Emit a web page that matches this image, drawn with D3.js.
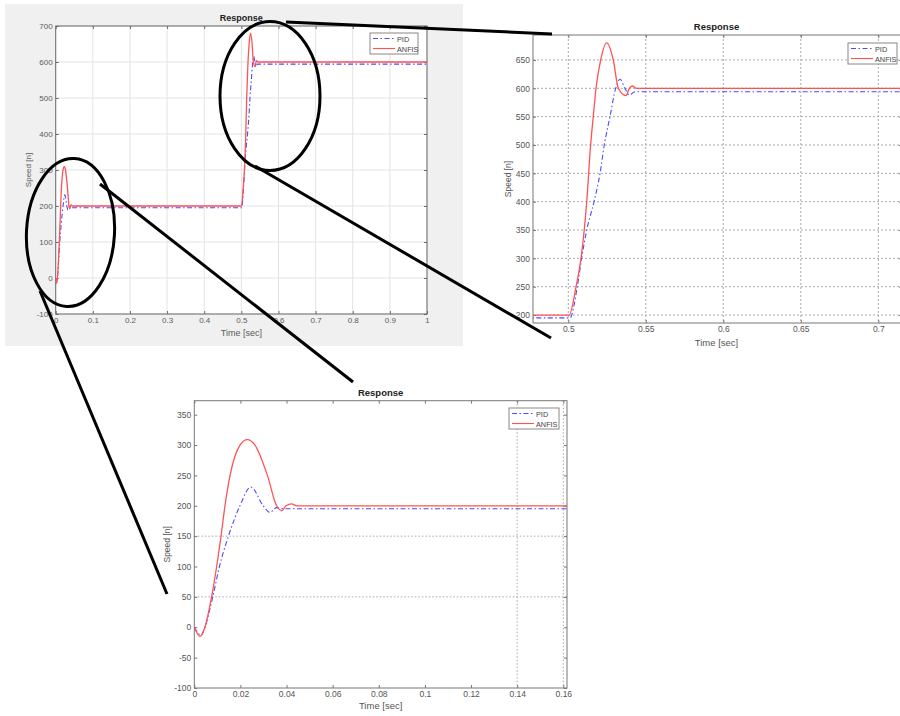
<!DOCTYPE html>
<html>
<head>
<meta charset="utf-8">
<script src="https://cdn.jsdelivr.net/npm/d3@7"></script>
<style>
  body { margin: 0; background: #fff; }
  svg { display: block; font-family: "Liberation Sans", Arial, sans-serif; }
</style>
</head>
<body>
<script>
// speed response, first step (0 -> 200)
const anfisTimeA = [0, 0.0025, 0.0046, 0.0075, 0.0097, 0.0116, 0.0133, 0.0155, 0.0198, 0.023, 0.0263, 0.0317, 0.0357, 0.0379, 0.0398, 0.0422, 0.0444];
const anfisSpeedA = [0, -15, 0, 50, 100, 150, 200, 250, 300, 309, 300, 250, 200, 192, 200, 203, 200];
const pidTimeA = [0, 0.003, 0.0046, 0.008, 0.0109, 0.0148, 0.0198, 0.0245, 0.0299, 0.0328, 0.0357, 0.0389];
const pidSpeedA = [0, -13, 0, 50, 100, 150, 200, 231, 200, 189, 197, 195];

// second step (200 -> 600)
const anfisTimeB = [0.5005, 0.505, 0.5082, 0.5119, 0.5144, 0.5161, 0.5179, 0.5209, 0.5248, 0.529, 0.5323, 0.5372, 0.5394, 0.5413, 0.5441, 1];
const anfisSpeedB = [200, 250, 300, 400, 500, 550, 600, 650, 680, 650, 600, 587, 600, 604, 600, 600];
const pidTimeB = [0.5011, 0.5058, 0.5086, 0.5119, 0.5166, 0.5205, 0.5232, 0.5269, 0.5306, 0.5334, 0.5365, 0.5394, 0.543, 1];
const pidSpeedB = [195, 250, 300, 350, 400, 450, 500, 550, 600, 616, 600, 588, 594, 594];

const anfis = anfisTimeA.concat(anfisTimeB).map((t, i) => [t, anfisSpeedA.concat(anfisSpeedB)[i]]);
const pid = pidTimeA.concat(pidTimeB).map((t, i) => [t, pidSpeedA.concat(pidSpeedB)[i]]);

// tick labels of the three panels
const fullXTicks = [0, 0.1, 0.2, 0.3, 0.4, 0.5, 0.6, 0.7, 0.8, 0.9, 1];
const fullYTicks = [-100, 0, 100, 200, 300, 400, 500, 600, 700];
const stepXTicks = [0.5, 0.55, 0.6, 0.65, 0.7];
const stepYTicks = [200, 250, 300, 350, 400, 450, 500, 550, 600, 650];
const startXTicks = [0, 0.02, 0.04, 0.06, 0.08, 0.1, 0.12, 0.14, 0.16];
const startYTicks = [-100, -50, 0, 50, 100, 150, 200, 250, 300, 350];
const startGridX = [0.14, 0.16];
const startGridY = [50, 150];

const pidColor = "#4a4aff";
const anfisColor = "#ff5252";

const svg = d3.select("body").append("svg")
    .attr("width", 900)
    .attr("height", 716);

svg.append("rect").attr("width", 900).attr("height", 716).attr("fill", "#fff");

// grey figure background of the full view
svg.append("rect")
    .attr("x", 5).attr("y", 4).attr("width", 458).attr("height", 342)
    .attr("fill", "#f0f0f0");

function drawChart(o, id) {
    const x = d3.scaleLinear().domain(o.xDomain).range([o.left, o.right]);
    const y = d3.scaleLinear().domain(o.yDomain).range([o.bottom, o.top]);
    const g = svg.append("g");

    g.append("clipPath").attr("id", id)
        .append("rect")
        .attr("x", o.left).attr("y", o.top)
        .attr("width", o.right - o.left).attr("height", o.bottom - o.top);

    g.append("rect")
        .attr("x", o.left).attr("y", o.top)
        .attr("width", o.right - o.left).attr("height", o.bottom - o.top)
        .attr("fill", "#fff");

    // grid
    g.selectAll(".gx").data(o.gridX).enter().append("line")
        .attr("class", "gx")
        .attr("x1", d => x(d)).attr("x2", d => x(d))
        .attr("y1", o.top).attr("y2", o.bottom)
        .attr("stroke", o.gridColor).attr("stroke-dasharray", o.gridDash);
    g.selectAll(".gy").data(o.gridY).enter().append("line")
        .attr("class", "gy")
        .attr("x1", o.left).attr("x2", o.right)
        .attr("y1", d => y(d)).attr("y2", d => y(d))
        .attr("stroke", o.gridColor).attr("stroke-dasharray", o.gridDash);

    // axes with inward ticks, plain hyphen for negatives
    const fmt = d => String(d);
    const axes = [
        [d3.axisBottom(x).tickValues(o.xTicks).tickSize(-3).tickFormat(fmt), "translate(0," + o.bottom + ")"],
        [d3.axisTop(x).tickValues(o.xTicks).tickSize(-3).tickFormat(""), "translate(0," + o.top + ")"],
        [d3.axisLeft(y).tickValues(o.yTicks).tickSize(-3).tickFormat(fmt), "translate(" + o.left + ",0)"],
        [d3.axisRight(y).tickValues(o.yTicks).tickSize(-3).tickFormat(""), "translate(" + o.right + ",0)"]
    ];
    axes.forEach(a => {
        const ax = g.append("g").attr("transform", a[1]).call(a[0]);
        ax.select(".domain").remove();
        ax.selectAll("line").attr("stroke", o.axisColor);
        ax.selectAll("text")
            .attr("fill", o.labelColor)
            .style("font-size", o.fontSize + "px")
            .style("font-family", "Liberation Sans, Arial, sans-serif");
    });

    g.append("rect")
        .attr("x", o.left).attr("y", o.top)
        .attr("width", o.right - o.left).attr("height", o.bottom - o.top)
        .attr("fill", "none").attr("stroke", o.axisColor);

    const line = d3.line().x(d => x(d[0])).y(d => y(d[1])).curve(d3.curveMonotoneX);
    const plot = g.append("g").attr("clip-path", "url(#" + id + ")");
    plot.append("path").datum(pid)
        .attr("d", line).attr("fill", "none")
        .attr("stroke", pidColor).attr("stroke-width", 1.1)
        .attr("stroke-dasharray", "5,2.5,1.5,2.5");
    plot.append("path").datum(anfis)
        .attr("d", line).attr("fill", "none")
        .attr("stroke", anfisColor).attr("stroke-width", 1.3);

    // title and axis labels
    const midX = (o.left + Math.min(o.right, 900)) / 2;
    g.append("text")
        .attr("x", midX).attr("y", o.top - 5)
        .attr("text-anchor", "middle")
        .style("font-size", (o.fontSize + 1) + "px").style("font-weight", "bold")
        .attr("fill", "#222")
        .text("Response");
    g.append("text")
        .attr("x", midX).attr("y", o.bottom + o.xLabelGap)
        .attr("text-anchor", "middle")
        .style("font-size", (o.fontSize + 1) + "px")
        .attr("fill", o.labelColor)
        .text("Time [sec]");
    g.append("text")
        .attr("transform", "translate(" + o.yLabelX + "," + (o.top + o.bottom) / 2 + ") rotate(-90)")
        .attr("text-anchor", "middle")
        .style("font-size", o.fontSize + "px")
        .attr("fill", o.labelColor)
        .text("Speed [n]");

    // legend
    const lg = g.append("g").attr("transform", "translate(" + o.legend[0] + "," + o.legend[1] + ")");
    lg.append("rect").attr("width", o.legend[2]).attr("height", 21)
        .attr("fill", "#fff").attr("stroke", "#888");
    [["PID", pidColor, "5,2.5,1.5,2.5"], ["ANFIS", anfisColor, null]].forEach((s, i) => {
        lg.append("line")
            .attr("x1", 3).attr("x2", 25)
            .attr("y1", 5.5 + i * 10).attr("y2", 5.5 + i * 10)
            .attr("stroke", s[1]).attr("stroke-width", 1.1)
            .attr("stroke-dasharray", s[2]);
        lg.append("text")
            .attr("x", 27).attr("y", 8.5 + i * 10)
            .style("font-size", "7.3px").attr("fill", "#444")
            .text(s[0]);
    });
}

// full view
drawChart({
    left: 55.7, right: 427, top: 26, bottom: 314,
    xDomain: [0, 1], yDomain: [-100, 700],
    xTicks: fullXTicks, yTicks: fullYTicks,
    gridX: fullXTicks, gridY: fullYTicks, gridColor: "#e3e3e3", gridDash: null,
    axisColor: "#6b6b6b", labelColor: "#5a5a5a", fontSize: 8,
    yLabelX: 31, xLabelGap: 22,
    legend: [370, 33, 48]
}, "clipFull");

// zoom of second step
drawChart({
    left: 533, right: 902, top: 35, bottom: 323,
    xDomain: [0.47723, 0.71529], yDomain: [186, 694],
    xTicks: stepXTicks, yTicks: stepYTicks,
    gridX: stepXTicks, gridY: stepYTicks, gridColor: "#a8a8a8", gridDash: "2,2",
    axisColor: "#777", labelColor: "#555", fontSize: 8.5,
    yLabelX: 511, xLabelGap: 23,
    legend: [848, 43, 49]
}, "clipStep");

// zoom of first step
drawChart({
    left: 194.3, right: 567, top: 400.7, bottom: 688,
    xDomain: [0, 0.1616], yDomain: [-100, 373],
    xTicks: startXTicks, yTicks: startYTicks,
    gridX: startGridX, gridY: startGridY, gridColor: "#a8a8a8", gridDash: "1.5,2",
    axisColor: "#777", labelColor: "#555", fontSize: 8.5,
    yLabelX: 170, xLabelGap: 21,
    legend: [509, 408, 50]
}, "clipStart");

// zoom markers
const ellipses = [
    { cx: 70.5, cy: 232.5, rx: 44, ry: 74, rot: 3 },
    { cx: 270, cy: 96, rx: 50, ry: 74.5, rot: 0 }
];
const pointers = [
    [[286, 22], [552, 34]],
    [[255, 166], [551, 338]],
    [[100, 184], [353, 382]],
    [[40, 291], [167, 594]]
];
svg.selectAll(".ell").data(ellipses).enter().append("ellipse")
    .attr("class", "ell")
    .attr("cx", d => d.cx).attr("cy", d => d.cy)
    .attr("rx", d => d.rx).attr("ry", d => d.ry)
    .attr("transform", d => "rotate(" + d.rot + "," + d.cx + "," + d.cy + ")")
    .attr("fill", "none").attr("stroke", "#000").attr("stroke-width", 3);
svg.selectAll(".ptr").data(pointers).enter().append("line")
    .attr("class", "ptr")
    .attr("x1", d => d[0][0]).attr("y1", d => d[0][1])
    .attr("x2", d => d[1][0]).attr("y2", d => d[1][1])
    .attr("stroke", "#000").attr("stroke-width", 3);
</script>
</body>
</html>
